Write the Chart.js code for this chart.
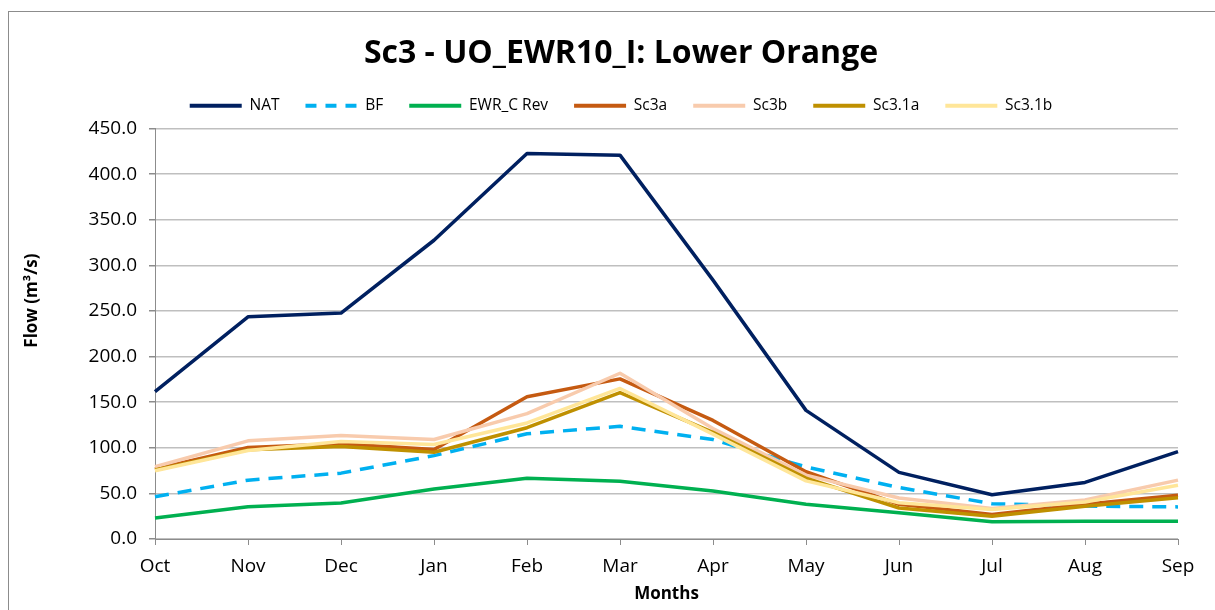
<!DOCTYPE html>
<html>
<head>
<meta charset="utf-8">
<script src="https://cdn.jsdelivr.net/npm/chart.js@4"></script>
<style>
  html, body { margin: 0; padding: 0; background: #fff; overflow: hidden; }
  #wrap { position: relative; width: 1215px; height: 610px; }
  #frame { position: absolute; left: 8px; top: 11px; width: 1400px; height: 800px; border: 1px solid #8c8c8c; box-sizing: border-box; pointer-events: none; }
  canvas { position: absolute; left: 0; top: 0; }
</style>
</head>
<body>
<div id="wrap">
  <canvas id="c" width="1215" height="610"></canvas>
  <div id="frame"></div>
</div>
<script>
const months = ['Oct','Nov','Dec','Jan','Feb','Mar','Apr','May','Jun','Jul','Aug','Sep'];
const NAT    = [161.5, 243.6, 247.7, 327.5, 422.5, 420.8, 283.8, 141.0, 73.0, 48.5, 62.0, 95.8];
const BF     = [46.4, 64.5, 72.2, 91.4, 115.4, 123.5, 109.0, 79.0, 56.4, 38.7, 36.1, 35.2];
const EWR_C  = [22.9, 35.4, 39.4, 54.9, 66.7, 63.4, 52.6, 38.0, 28.7, 18.8, 19.5, 19.5];
const Sc3a   = [76.7, 100.3, 104.3, 98.0, 155.9, 175.5, 130.0, 73.7, 38.0, 27.0, 38.0, 47.9];
const Sc3b   = [79.2, 107.6, 113.5, 109.1, 137.5, 181.7, 121.0, 70.0, 45.0, 33.5, 42.7, 64.5];
const Sc31a  = [75.6, 97.7, 101.4, 95.1, 122.0, 160.5, 117.0, 66.7, 34.0, 25.0, 36.0, 45.3];
const Sc31b  = [74.8, 97.0, 106.9, 103.6, 127.2, 165.0, 115.0, 63.7, 39.8, 32.4, 40.5, 59.0];
const yTicks = [0, 50, 100, 150, 200, 250, 300, 350, 400, 450];

const FONT = "'Open Sans', 'Liberation Sans', sans-serif";

function ds(label, data, color, order, extra) {
  return Object.assign({
    label, data,
    borderColor: color, backgroundColor: color,
    borderWidth: 3.5, pointRadius: 0, pointHoverRadius: 0,
    tension: 0, fill: false, order,
    borderJoinStyle: 'round'
  }, extra || {});
}

// layout tweaks: extra space under the legend, and shift title/legend to the reference centre
const layoutTweak = {
  id: 'layoutTweak',
  beforeLayout(chart) {
    const lg = chart.legend;
    if (lg && !lg._tweaked) {
      const orig = lg.fit;
      lg.fit = function () { orig.call(this); this.height += 5; };
      lg._tweaked = true;
    }
  },
  afterLayout(chart) {
    const dx = 27;
    [chart.legend, chart.titleBlock].forEach(b => {
      if (b) { b.left += dx; b.right += dx; }
    });
    if (chart.legend && chart.legend.legendHitBoxes) {
      chart.legend.legendHitBoxes.forEach(h => { h.left += dx; });
    }
  }
};

new Chart(document.getElementById('c'), {
  type: 'line',
  data: {
    labels: months,
    datasets: [
      ds('NAT', NAT, '#002060', 7),
      ds('BF', BF, '#00B0F0', 6, { borderDash: [14, 9] }),
      ds('EWR_C Rev', EWR_C, '#00B050', 5),
      ds('Sc3a', Sc3a, '#C55A11', 4),
      ds('Sc3b', Sc3b, '#F8CBAD', 3),
      ds('Sc3.1a', Sc31a, '#BF9000', 2),
      ds('Sc3.1b', Sc31b, '#FFE699', 1)
    ]
  },
  plugins: [layoutTweak],
  options: {
    responsive: false,
    animation: false,
    events: [],
    layout: { padding: { left: 10, right: 37, top: 0, bottom: 6 } },
    plugins: {
      title: {
        display: true,
        text: 'Sc3 - UO_EWR10_I: Lower Orange',
        color: '#000',
        font: { family: FONT, size: 32, weight: 'bold', lineHeight: 1.0 },
        padding: { top: 38, bottom: 2 }
      },
      legend: {
        display: true,
        labels: {
          usePointStyle: true,
          pointStyle: 'line',
          pointStyleWidth: 52,
          boxHeight: 14,
          color: '#000',
          font: { family: FONT, size: 15.5 },
          padding: 26,
          sort: (a, b) => a.datasetIndex - b.datasetIndex,
          generateLabels: chart => {
            const items = Chart.defaults.plugins.legend.labels.generateLabels(chart);
            items.forEach(it => {
              const d = chart.data.datasets[it.datasetIndex];
              it.strokeStyle = d.borderColor;
              it.fillStyle = d.borderColor;
              it.lineWidth = 4;
              it.lineDash = d.borderDash ? [11, 9] : [];
              it.lineCap = 'butt';
              it.pointStyle = 'line';
            });
            return items;
          }
        }
      },
      tooltip: { enabled: false }
    },
    scales: {
      x: {
        type: 'category',
        offset: false,
        afterFit: s => { s.height = 610 - 6 - 539; },
        grid: { drawOnChartArea: false, drawTicks: true, tickLength: 6, tickColor: '#8c8c8c' },
        border: { display: true, color: '#8c8c8c', width: 1 },
        ticks: { color: '#000', font: { family: FONT, size: 19 }, padding: 10, maxRotation: 0, autoSkip: false },
        title: { display: true, text: 'Months', color: '#000', font: { family: FONT, size: 17, weight: 'bold' }, padding: { top: 0, bottom: 0 } }
      },
      y: {
        min: 0, max: 450,
        afterFit: s => { s.width = 155 - 10; },
        afterBuildTicks: s => { s.ticks = yTicks.map(v => ({ value: v })); },
        grid: { color: '#BFBFBF', lineWidth: 1.5, drawTicks: true, tickLength: 6, tickColor: '#8c8c8c' },
        border: { display: true, color: '#8c8c8c', width: 1 },
        ticks: { color: '#000', font: { family: FONT, size: 19 }, padding: 12, callback: v => Number(v).toFixed(1) },
        title: { display: true, text: '\u00A0'.repeat(15) + 'Flow (m³/s)', color: '#000', font: { family: FONT, size: 17, weight: 'bold' }, padding: { top: 12, bottom: 0 } }
      }
    }
  }
});
</script>
</body>
</html>
